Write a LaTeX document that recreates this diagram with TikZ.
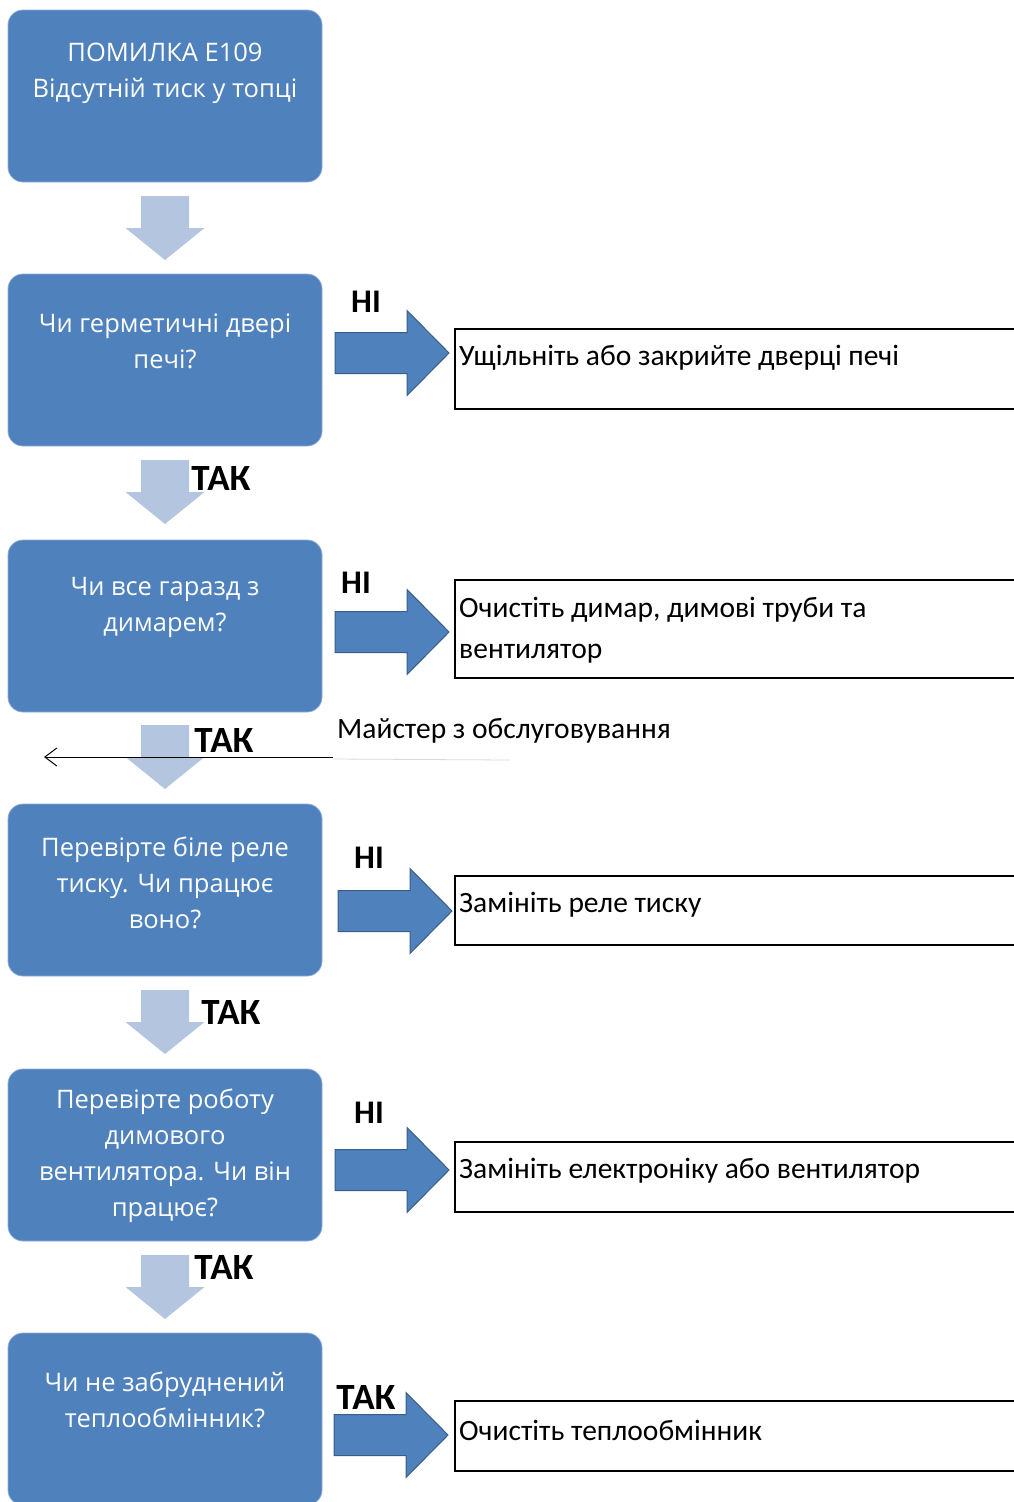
\documentclass[tikz,border=0pt]{standalone}
\usepackage{fontspec}
\setmainfont{Carlito}
\newfontfamily\boxfont{Open Sans}
\usetikzlibrary{arrows.meta,positioning}

\definecolor{qblue}{HTML}{4F81BD}
\definecolor{qedge}{HTML}{8EAADB}
\definecolor{downfill}{HTML}{B4C5E0}
\definecolor{rightedge}{HTML}{385D8A}

\tikzset{
  qbox/.style={rectangle,rounded corners=15pt,fill=qblue,draw=qedge,line width=0.8pt,
    minimum width=314pt,minimum height=172pt,inner sep=0pt},
  qtext/.style={text=white,align=center,font=\boxfont\fontsize{25.5}{36}\selectfont},
  downarr/.pic={\fill[downfill] (-24,-32) -- (24,-32) -- (24,0) -- (39.5,0) -- (0,32)
    -- (-39.5,0) -- (-24,0) -- cycle;},
  rightarr/.pic={\filldraw[fill=qblue,draw=rightedge,line width=1pt,line join=miter]
    (-57,-20.5) -- (15,-20.5) -- (15,-42.5) -- (57,0) -- (15,42.5) -- (15,20.5)
    -- (-57,20.5) -- cycle;},
  abox/.style={rectangle,draw=black,line width=1.6pt,minimum width=560pt,anchor=north west,inner sep=0pt},
  atext/.style={anchor=west,align=left,inner sep=0pt,font=\fontsize{29.5}{41}\selectfont},
  lbl/.style={font=\bfseries\fontsize{33}{33}\selectfont,inner sep=1pt},
  lblw/.style={font=\bfseries\fontsize{37}{37}\selectfont,inner sep=1pt,fill=white}
}

\begin{document}
\begin{tikzpicture}[x=1pt,y=-1pt]
\useasboundingbox (0,0) rectangle (1014,1502);

% question boxes
\node[qbox] (q1) at (165,96) {};
\node[qbox] (q2) at (165,360) {};
\node[qbox] (q3) at (165,626) {};
\node[qbox] (q4) at (165,890) {};
\node[qbox] (q5) at (165,1155) {};
\node[qbox] (q6) at (165,1419) {};
\node[qtext] (t1) at (165,73) {ПОМИЛКА E109\\Відсутній тиск у топці};
\node[qtext] (t2) at (165,341) {Чи герметичні двері\\печі?};
\node[qtext] (t3) at (165,607) {Чи все гаразд з\\димарем?};
\node[qtext] (t4) at (165,883) {Перевірте біле реле\\тиску. Чи працює\\воно?};
\node[qtext] (t5) at (165,1156) {Перевірте роботу\\димового\\вентилятора. Чи він\\працює?};
\node[qtext] (t6) at (165,1400) {Чи не забруднений\\теплообмінник?};

% down arrows
\pic (d1) at (165,228) {downarr};
\pic (d2) at (165,492) {downarr};
\pic (d3) at (165,757) {downarr};
\pic (d4) at (165,1022) {downarr};
\pic (d5) at (165,1287) {downarr};

% action boxes
\node[abox,minimum height=80pt] (a1) at (454,328) {};
\node[abox,minimum height=98pt] (a2) at (454,579) {};
\node[abox,minimum height=69pt] (a3) at (454,875) {};
\node[abox,minimum height=70pt] (a4) at (454,1141) {};
\node[abox,minimum height=70pt] (a5) at (454,1400) {};
\node[atext] (x1) at (459,358) {Ущільніть або закрийте дверці печі};
\node[atext] (x2) at (459,630) {Очистіть димар, димові труби та\\вентилятор};
\node[atext] (x3) at (459,905) {Замініть реле тиску};
\node[atext] (x4) at (459,1171) {Замініть електроніку або вентилятор};
\node[atext] (x5) at (459,1430) {Очистіть теплообмінник};

% right arrows
\pic (r1) at (392,353) {rightarr};
\pic (r2) at (392,632) {rightarr};
\pic (r3) at (395,911) {rightarr};
\pic (r4) at (392,1170) {rightarr};
\pic (r5) at (391,1435) {rightarr};

% labels
\node[lbl] (n1) at (366,302) {НІ};
\node[lbl] (n2) at (356,583) {НІ};
\node[lbl] (n3) at (369,858) {НІ};
\node[lbl] (n4) at (369,1113) {НІ};
\node[lblw] (y5) at (366,1397) {ТАК};
\node[lblw] (y1) at (221,478) {ТАК};
\node[lblw] (y2) at (224,740) {ТАК};
\node[lblw,fill=none] (y3) at (231,1012) {ТАК};
\node[lblw] (y4) at (224,1267) {ТАК};

% service line
\node[anchor=west,inner sep=0pt,font=\fontsize{29.5}{33}\selectfont] (m) at (337,731) {Майстер з обслуговування};
\coordinate (ms) at (333,757);
\coordinate (me) at (44,757);
\coordinate (mg) at (510,760);
\draw[black!15,line width=0.8pt] (ms) ++(0,2) -- (mg);
\draw[-{Straight Barb[length=12pt,width=18pt]},line width=1pt] (ms) -- (me);
\end{tikzpicture}
\end{document}
